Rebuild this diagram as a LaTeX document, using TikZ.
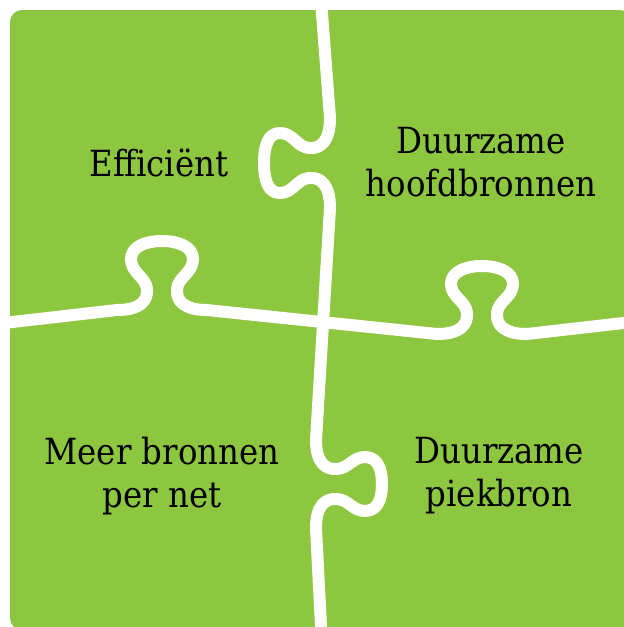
\documentclass[tikz,border=0pt]{standalone}
\usepackage{fontspec}
\setmainfont{DejaVu Serif Condensed}
\definecolor{pgreen}{RGB}{141,198,63}
\tikzset{
  lbl/.style={text=black, align=center, font=\fontsize{36}{43}\selectfont, inner sep=0pt},
  cut/.style={draw=white, line width=12pt, line join=round}
}
\begin{document}
\begin{tikzpicture}[x=1pt,y=-1pt]
\useasboundingbox (0,0) rectangle (624,627);
\clip (0,0) rectangle (624,627);
\fill[pgreen, rounded corners=12pt] (10,10) rectangle (632,630);
% horizontal cut
\coordinate (hl) at (-5,324);
\coordinate (hr) at (632,322);
\draw[cut] (hl) -- (117,310)
  .. controls (140,310) and (148,301) .. (147,289)
  .. controls (146,277) and (131,273) .. (131,259)
  .. controls (131,247) and (145,241) .. (162,241)
  .. controls (179,241) and (193,247) .. (193,259)
  .. controls (193,273) and (178,277) .. (177,289)
  .. controls (176,301) and (184,310) .. (207,310)
  -- (437,334)
  .. controls (460,334) and (468,325) .. (467,313)
  .. controls (466,301) and (451,297) .. (451,284)
  .. controls (451,272) and (465,266) .. (482,266)
  .. controls (499,266) and (513,272) .. (513,284)
  .. controls (513,297) and (498,301) .. (497,313)
  .. controls (496,325) and (504,334) .. (527,334)
  -- (hr);
% vertical cut
\coordinate (vt) at (320.6,-5);
\coordinate (vb) at (321.3,632);
\draw[cut] (vt) -- (330,118)
  .. controls (330,141) and (321,149) .. (309,148)
  .. controls (297,147) and (293,133) .. (280,133)
  .. controls (268,133) and (264,146) .. (264,163)
  .. controls (264,180) and (268,193) .. (280,193)
  .. controls (293,193) and (297,179) .. (309,178)
  .. controls (321,177) and (330,185) .. (330,208)
  -- (316,440)
  .. controls (316,462) and (325,470) .. (337,469)
  .. controls (349,468) and (353,457) .. (365,457)
  .. controls (377,457) and (382,468) .. (382,484)
  .. controls (382,500) and (377,511) .. (365,511)
  .. controls (353,511) and (349,500) .. (337,499)
  .. controls (325,498) and (316,506) .. (316,528)
  -- (vb);
% labels
\node[lbl] (eff) at (159,163) {Efficiënt};
\node[lbl] (dhb) at (481,162) {Duurzame\\hoofdbronnen};
\node[lbl] (mbp) at (162,476) {Meer bronnen\\per net};
\node[lbl] (dpb) at (499,476) {Duurzame\\piekbron};
\end{tikzpicture}
\end{document}
